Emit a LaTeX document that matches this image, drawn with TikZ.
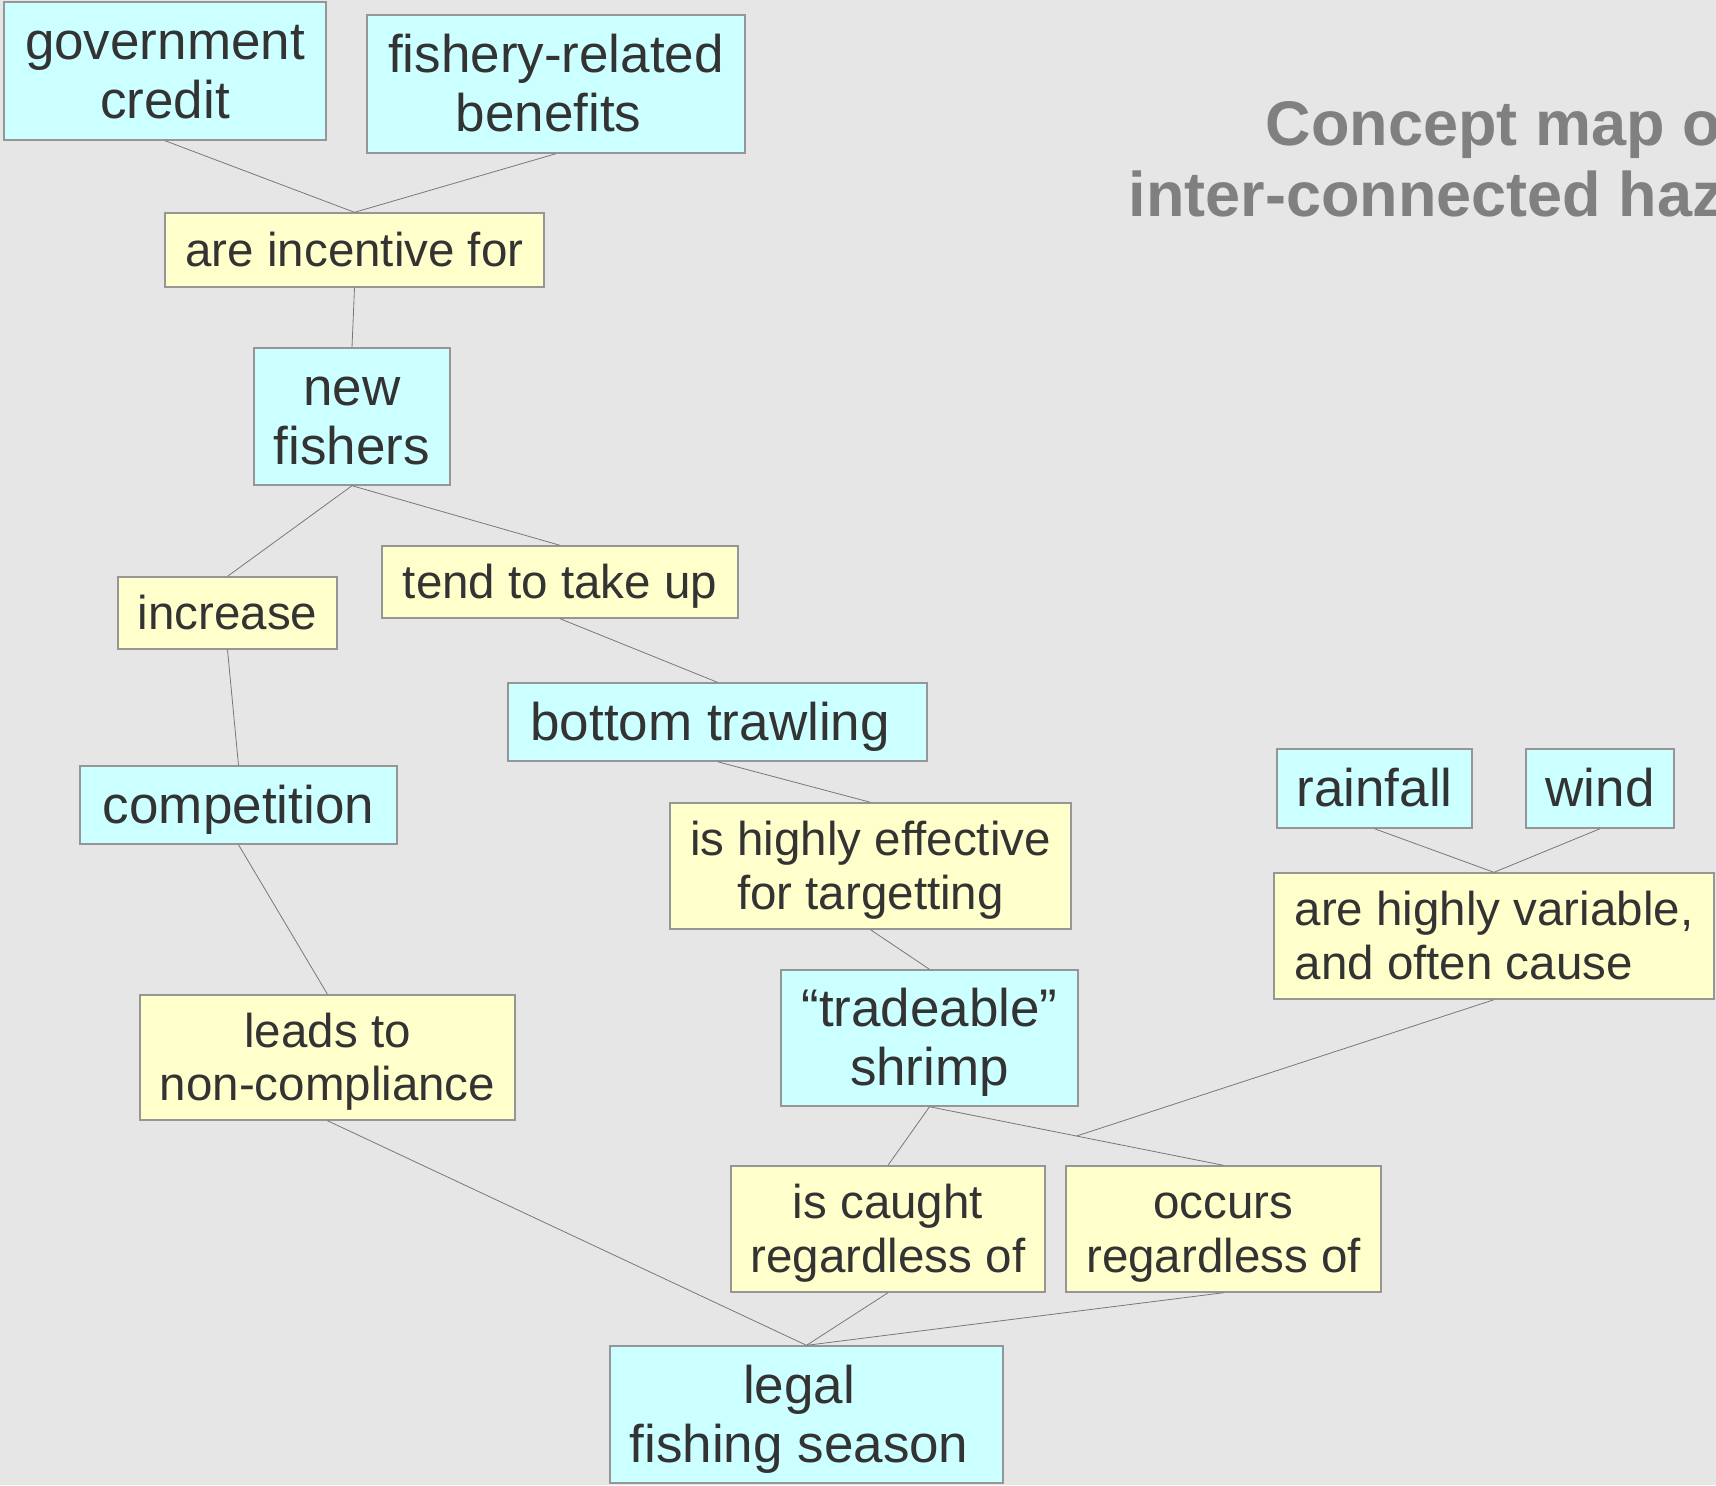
\documentclass[tikz,border=0pt]{standalone}
\usepackage{fontspec}
\setmainfont{Liberation Sans}
\usepackage{tikz}
\usetikzlibrary{calc}
\definecolor{mybg}{RGB}{230,230,230}
\definecolor{myblue}{RGB}{204,255,255}
\definecolor{myyellow}{RGB}{255,255,204}
\definecolor{mytext}{RGB}{51,51,51}
\definecolor{myframe}{RGB}{150,150,150}
\definecolor{myline}{RGB}{120,120,120}
\definecolor{mytitle}{RGB}{128,128,128}
\newcommand{\tsp}{\hspace*{0.278em}}
\tikzset{
  concept/.style={rectangle, draw=myframe, fill=myblue, text=mytext,
    align=center, inner sep=0pt, line width=0.7pt,
    font=\fontsize{26.5}{29.5}\selectfont,
    text height=24pt, text depth=5.6pt},
  concept2/.style={concept, text height=53.5pt},
  linking/.style={rectangle, draw=myframe, fill=myyellow, text=mytext,
    align=center, inner sep=0pt, line width=0.7pt,
    font=\fontsize{23.75}{26.8}\selectfont,
    text height=21.5pt, text depth=5pt},
  linking2/.style={linking, text height=48.3pt},
  line/.style={thin, color=myline},
  titletext/.style={anchor=base west, text=mytitle,
    font=\fontsize{31.5}{35.5}\selectfont\bfseries}
}
\begin{document}
\begin{tikzpicture}[x=0.5pt, y=-0.5pt]
  % ── Page ──
  \clip (0,0) rectangle (1716,1485);
  \fill[mybg] (0,0) rectangle (1716,1485);
  % ── Title ──
  \node[titletext] (title1) at (1258.5,145) {Concept map of};
  \node[titletext] (title2) at (1121.5,216) {inter-connected hazards};
  % ── Top: incentives ──
  \node[concept2, minimum width=161pt, minimum height=69pt] (gov) at (165,71) {government\\credit};
  \node[concept2, minimum width=189pt, minimum height=69pt] (fish) at (556,84) {fishery-related\\benefits\tsp};
  \node[linking, minimum width=189.5pt, minimum height=37pt] (incent) at (354.5,250) {are incentive for};
  \node[concept2, minimum width=98pt, minimum height=68.5pt] (newf) at (352,416.5) {new\\fishers};
  % ── Left branch ──
  \node[linking, minimum width=109.5pt, minimum height=36pt] (incr) at (227.5,613) {increase};
  \node[concept, minimum width=158.5pt, minimum height=39pt] (comp) at (238.5,805) {competition};
  \node[linking2, minimum width=187.5pt, minimum height=62.5pt] (leads) at (327.5,1057.5) {leads to\\non-compliance};
  % ── Middle branch ──
  \node[linking, minimum width=178pt, minimum height=36pt] (tend) at (560,582) {tend to take up};
  \node[concept, minimum width=209.5pt, minimum height=39pt] (trawl) at (717.5,722) {bottom trawling\tsp};
  \node[linking2, minimum width=200.5pt, minimum height=63pt] (effect) at (870.5,866) {is highly effective\\for targetting};
  \node[concept2, minimum width=148.5pt, minimum height=68pt] (shrimp) at (929.5,1038) {“tradeable”\\shrimp};
  \node[linking2, minimum width=157pt, minimum height=63pt] (caught) at (888,1229) {is caught\\regardless of};
  \node[linking2, minimum width=157.5pt, minimum height=63pt] (occurs) at (1223.5,1229) {occurs\\regardless of};
  \node[concept2, minimum width=196.5pt, minimum height=68.5pt] (legal) at (806.5,1414.5) {legal\tsp\\fishing season\tsp};
  % ── Right: weather ──
  \node[concept, minimum width=97.5pt, minimum height=39.5pt] (rain) at (1374.5,788.5) {rainfall};
  \node[concept, minimum width=74pt, minimum height=39.5pt] (wind) at (1600,788.5) {wind};
  \node[linking2, align=left, minimum width=220pt, minimum height=63pt] (vari) at (1494,936) {are highly variable,\\and often cause};
  % ── Connectors ──
  \draw[line] (gov.south) -- (incent.north);
  \draw[line] (fish.south) -- (incent.north);
  \draw[line] (incent.south) -- (newf.north);
  \draw[line] (newf.south) -- (incr.north);
  \draw[line] (newf.south) -- (tend.north);
  \draw[line] (incr.south) -- (comp.north);
  \draw[line] (comp.south) -- (leads.north);
  \draw[line] (leads.south) -- (legal.north);
  \draw[line] (tend.south) -- (trawl.north);
  \draw[line] (trawl.south) -- (effect.north);
  \draw[line] (effect.south) -- (shrimp.north);
  \draw[line] (shrimp.south) -- (caught.north);
  \draw[line] (shrimp.south) -- (occurs.north);
  \draw[line] (caught.south) -- (legal.north);
  \draw[line] (occurs.south) -- (legal.north);
  \draw[line] (rain.south) -- (vari.north);
  \draw[line] (wind.south) -- (vari.north);
  \coordinate (mid) at ($(shrimp.south)!0.5!(occurs.north)$);
  \draw[line] (vari.south) -- (mid);
\end{tikzpicture}
\end{document}
